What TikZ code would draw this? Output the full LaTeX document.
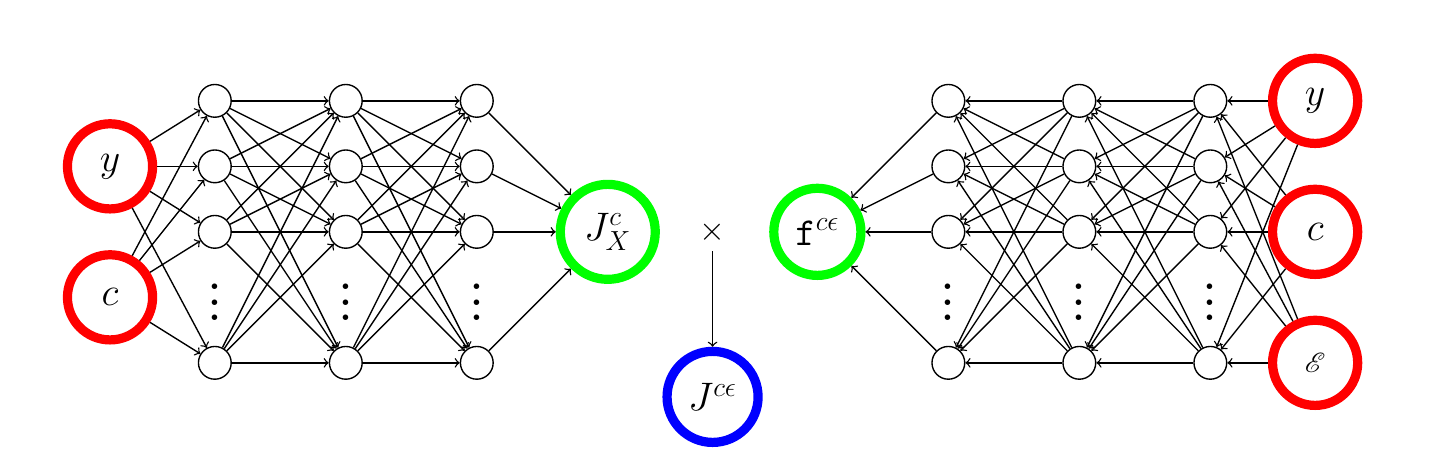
\documentclass[tikz,border=0pt]{standalone}
\usepackage{amsmath}
\usepackage{mathrsfs}
\usetikzlibrary{positioning}

\begin{document}
\begin{tikzpicture}[node distance=1.6cm, semithick, font=\LARGE]
\tikzstyle{hid} = [circle, draw, fill=white, minimum size=0.5cm, inner sep=0pt]
\tikzstyle{inp} = [circle, draw=red, line width=4pt, minimum size=1.3cm, inner sep=0pt]
\tikzstyle{outp} = [circle, draw=green, line width=4pt, inner sep=0pt]
\tikzstyle{vdot} = [inner sep=0pt, font=\LARGE]
\tikzstyle{line} = [draw, ->]

\useasboundingbox (-3.28,1.54) rectangle (18.89,-5.42);

% hidden layers
\foreach \col/\x in {la/0, lb/2, lc/4, ra/11.2, rb/13.2, rc/15.2} {
  \node [hid] (\col1) at (\x,0) {};
  \node [hid] (\col2) at (\x,-1) {};
  \node [hid] (\col3) at (\x,-2) {};
  \node [hid] (\col4) at (\x,-4) {};
  \node [vdot] (\col dots) at (\x,-2.9) {\scalebox{1.7}{$\vdots$}};
}

% inputs and outputs
\node [inp, left of=la2] (yin) {$y$};
\node [inp, below of=yin, node distance=2cm] (cin) {$c$};
\node [outp, minimum size=1.45cm, right of=lc3, node distance=2cm] (jx) {$J^c_X$};
\node [font=\Large, right of=jx] (times) {$\times$};
\node [circle, draw=blue, line width=4pt, minimum size=1.39cm, inner sep=0pt, below of=times, node distance=2.52cm] (jce) {$J^{c\epsilon}$};
\node [outp, minimum size=1.33cm, right of=times] (fce) {$\mathtt{f}^{c\epsilon}$};
\node [inp, right of=rc1] (yin2) {$y$};
\node [inp, right of=rc3] (cin2) {$c$};
\node [inp, font=\large, right of=rc4] (ein) {$\mathscr{E}$};

% connections
\foreach \i in {1,...,4} {
  \foreach \j in {1,...,4} {
    \path [line] (la\i) -- (lb\j);
    \path [line] (lb\i) -- (lc\j);
    \path [line] (rc\i) -- (rb\j);
    \path [line] (rb\i) -- (ra\j);
  }
  \path [line] (yin) -- (la\i);
  \path [line] (cin) -- (la\i);
  \path [line] (lc\i) -- (jx);
  \path [line] (ra\i) -- (fce);
  \path [line] (yin2) -- (rc\i);
  \path [line] (cin2) -- (rc\i);
  \path [line] (ein) -- (rc\i);
}
\path [line] (times) -- (jce);
\end{tikzpicture}
\end{document}
